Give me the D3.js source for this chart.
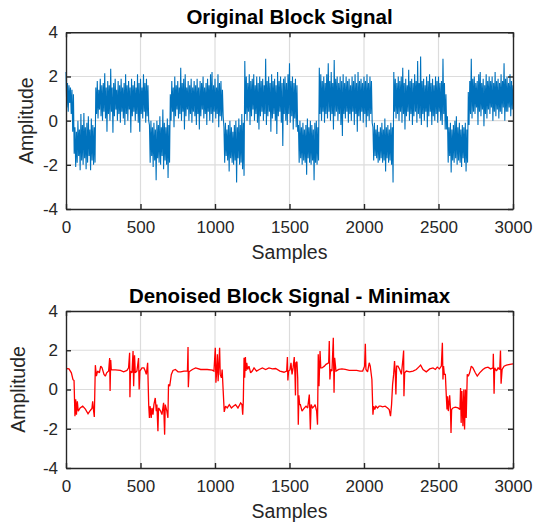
<!DOCTYPE html>
<html><head><meta charset="utf-8">
<script src="https://cdn.jsdelivr.net/npm/d3@7/dist/d3.min.js"></script>
<style>body{margin:0;background:#fff}svg{display:block}</style>
</head><body><svg id="c" width="533" height="524"></svg>
<script>
// ---------- data ----------
const sampleStep = 5; // original signal read every 5 samples (alternating upper / lower noise values)
const originalValues = [
 // 0-50 (high)
 2.2,0.6,1.7,0.4,1.6,0.8,1.5,0.3,1.4,-0.5,1.2,
 // 55-195 (low)
 -1.5,-0.3,-2.1,-0.5,-1.9,0.0,-1.6,-0.4,-2.25,0.3,-1.8,-0.2,-2.0,0.35,-1.7,-0.3,-2.2,-0.1,-1.9,0.2,-1.6,-0.4,-2.25,0.1,-1.8,-0.2,-2.0,-0.3,-1.9,
 // 200-555 (high)
 1.5,0.3,1.8,0.1,1.4,0.5,1.9,0.2,1.6,0.0,1.7,0.4,2.15,0.1,1.5,-0.5,1.8,0.3,1.6,0.0,2.35,0.4,1.5,-0.55,1.7,0.2,1.9,0.5,1.4,0.0,1.8,0.3,1.6,-0.1,1.9,0.4,
 1.5,0.1,1.7,-0.2,2.1,0.3,1.6,0.0,1.8,0.5,1.5,-0.55,1.9,0.2,1.6,0.4,1.8,0.0,1.5,0.3,2.1,-0.1,1.7,-0.5,1.9,0.3,1.5,0.1,2.1,0.4,1.7,-0.1,1.9,0.2,1.6,0.0,
 // 560-695 (low)
 -0.2,-1.9,0.0,-1.6,-0.3,-2.1,-0.1,-1.8,-0.4,-2.7,0.0,-1.7,-0.2,-1.9,0.2,-2.0,-0.3,-1.6,0.5,-2.2,-0.1,-1.8,-0.3,-2.0,0.1,-2.6,-0.2,-1.9,
 // 700-1055 (high)
 1.2,0.0,1.8,0.4,1.5,-0.3,2.0,0.2,1.6,0.5,1.8,0.1,1.5,0.3,2.4,0.0,1.7,0.4,1.9,-0.4,2.1,0.2,1.5,0.5,1.8,0.0,1.6,0.3,1.9,-0.1,1.5,0.4,1.8,0.2,1.6,-0.2,
 1.9,0.3,1.5,-0.4,1.8,0.2,1.7,0.5,2.0,0.1,1.5,0.3,1.7,-0.2,1.9,0.4,1.6,0.0,2.1,0.3,2.2,-0.1,1.6,0.4,1.9,0.1,1.5,0.3,2.1,-0.3,1.7,0.2,1.8,0.0,1.4,0.2,
 // 1060-1195 (low)
 -0.3,-1.9,-0.1,-1.6,-0.4,-1.8,-0.2,-2.3,0.0,-1.7,-0.3,-1.9,-0.5,-2.0,-0.2,-1.8,0.0,-2.8,-0.3,-1.7,0.1,-2.0,-0.2,-1.9,0.3,-2.2,-0.1,-2.5,
 // 1200-1555 (high)
 2.7,0.3,2.0,0.0,1.7,0.4,2.1,-0.2,1.8,0.2,1.9,0.5,2.1,0.0,1.6,0.3,2.0,-0.1,1.7,-0.4,2.0,0.2,1.8,0.4,1.9,0.0,1.6,0.3,2.8,-0.2,1.8,0.2,2.0,0.4,1.7,-0.5,
 2.1,0.1,1.8,0.3,1.9,0.0,1.6,-0.6,2.2,0.2,1.8,0.4,2.0,-0.1,1.7,-1.15,1.9,0.3,2.0,0.0,1.7,-0.2,2.1,0.3,2.6,-0.1,1.8,0.2,2.0,-0.4,1.7,0.1,1.9,-0.3,1.6,-0.5,
 // 1560-1695 (low)
 -0.2,-1.9,0.0,-1.7,-0.3,-2.0,-0.1,-1.8,-0.4,-1.9,-0.2,-2.45,0.1,-1.7,-0.3,-1.9,0.0,-2.0,-0.2,-1.8,-0.4,-2.7,-0.1,-1.9,0.0,-2.0,-0.3,-1.8,
 // 1700-2055 (high)
 2.4,0.3,2.1,0.0,1.8,0.4,2.0,-0.1,1.7,0.3,2.1,0.1,2.6,0.4,1.8,0.0,2.2,0.3,1.7,-0.4,2.75,0.2,1.9,0.4,2.0,0.0,1.7,0.3,2.0,-0.2,1.8,-0.7,2.1,0.3,1.7,0.1,
 2.0,0.4,1.8,-0.1,1.9,0.3,1.6,0.0,2.0,0.4,1.8,-0.2,2.1,0.3,1.7,-0.5,2.2,0.2,1.8,0.0,1.9,0.4,1.7,-0.1,2.0,0.3,1.8,-0.3,2.1,0.2,1.7,0.0,2.0,0.3,1.8,-0.1,
 // 2060-2195 (low)
 -0.3,-1.8,-0.1,-1.6,-0.4,-1.7,-0.2,-1.9,-0.5,-1.8,-0.3,-1.7,-0.1,-1.9,-0.4,-1.8,0.1,-2.3,-0.3,-1.7,-0.2,-1.9,-0.4,-1.8,-0.1,-2.0,-0.3,-2.8,
 // 2200-2555 (high)
 2.2,0.4,1.9,0.1,1.7,0.3,2.0,0.0,1.8,0.4,2.0,-0.1,2.4,0.3,1.7,-0.4,1.9,0.2,1.6,0.4,2.3,0.0,1.8,0.3,1.9,-0.2,1.7,0.2,2.1,0.4,1.8,-0.1,2.7,0.3,1.7,0.1,
 2.9,-0.2,1.8,0.3,1.9,0.0,1.6,0.4,2.0,-0.3,1.8,0.2,2.1,0.4,1.7,-0.2,1.9,0.2,1.6,0.0,2.0,0.3,1.8,-0.1,2.0,0.4,1.7,0.0,1.8,-0.2,2.8,0.3,1.7,-0.4,1.2,-0.4,
 // 2560-2695 (low)
 0.2,-1.9,-0.3,-1.6,-0.1,-2.35,-0.4,-1.8,-0.2,-1.9,0.0,-1.7,0.2,-2.0,-0.3,-1.8,-0.1,-1.9,-0.4,-2.1,-0.2,-1.7,-0.3,-1.9,-0.1,-2.3,-0.4,-1.9,
 // 2700-3000 (high)
 1.3,-0.2,1.8,0.3,2.8,0.1,1.9,0.4,2.0,0.3,1.7,0.6,1.8,-0.2,2.1,0.4,2.2,0.2,1.7,0.5,1.9,-0.25,1.6,0.3,2.1,0.1,1.8,0.5,2.0,0.3,
 1.8,0.6,2.0,0.0,1.7,0.4,2.2,0.2,1.8,0.5,1.9,0.1,1.7,0.4,2.1,0.3,1.8,0.6,2.6,0.0,1.9,0.4,2.0,0.4,1.7,0.6,2.1,0.2,1.8,0.5,1.6
];
const denoisedSamples = [
 0,20,36,47,54,60,65,70,76,82,95,112,130,148,163,174,179,184,190,197,204,212,224,233,242,255,264,273,286,293,296,300,304,331,365,387,409,420,427,429,433,443,450,454,460,465,476,487,491,496,510,523,532,539,548,
 555,560,564,568,572,577,584,590,599,606,610,617,621,635,644,655,662,666,677,684,688,696,707,718,734,752,770,792,815,819,821,826,848,870,904,948,982,993,1002,1006,1010,1016,1021,1031,1035,1043,1048,
 1055,1062,1071,1082,1096,1110,1123,1138,1154,1172,1181,1186,1190,1195,1199,1204,1208,1213,1219,1228,1239,1250,1262,1279,1297,1318,1340,1362,1385,1407,1436,1463,1481,1486,1489,1494,1503,1510,1517,1524,1532,1537,1540,1543,1550,1555,
 1559,1563,1568,1573,1584,1600,1611,1622,1633,1640,1645,1655,1666,1672,1682,1688,1693,1698,1705,1710,1718,1734,1745,1763,1767,1771,1776,1785,1794,1799,1803,1812,1830,1852,1874,1901,1924,1951,1973,1991,2004,2009,2013,2024,2035,2042,2053,
 2060,2065,2072,2080,2091,2102,2113,2124,2142,2158,2169,2178,2185,2192,2199,2205,2210,2214,2219,2228,2240,2251,2262,2266,2268,2273,2284,2306,2329,2351,2367,2380,2396,2418,2441,2463,2479,2492,2506,2519,2526,2530,2534,2539,2546,
 2552,2557,2561,2566,2575,2580,2584,2588,2597,2613,2631,2644,2648,2652,2657,2664,2670,2675,2681,2686,2693,2700,2709,2720,2731,2747,2760,2776,2798,2814,2832,2850,2866,2868,2873,2877,2889,2900,2911,2916,2920,2927,2940,2956,2979,3000
];
const denoisedValues = [
 1.07,1.05,0.85,0.5,0.46,-1.36,-0.5,-1.28,-0.6,-1.1,-0.94,-0.85,-1.0,-1.24,-1.07,-0.97,-0.6,-1.0,-1.4,1.24,0.68,0.94,0.85,1.19,1.1,0.77,0.68,0.85,0.94,1.6,-0.08,1.5,1.0,1.0,0.97,0.9,0.97,1.1,1.87,-0.4,0.94,0.85,1.96,0.17,1.75,0.85,0.94,1.6,0.0,0.94,1.1,1.1,0.94,0.77,1.36,
 -0.77,-1.45,-0.85,-1.1,-1.45,-0.94,-1.28,-0.77,-0.43,-1.1,-0.77,-2.13,-0.94,-1.1,-1.28,-0.68,-2.3,-0.77,-1.1,-1.45,0.26,0.17,0.77,0.97,1.02,0.9,0.9,0.94,0.94,2.16,0.12,0.9,1.02,1.1,1.02,1.02,0.99,0.94,2.13,0.34,0.77,1.79,0.42,2.13,0.77,0.6,1.02,
 -0.08,-1.14,-0.85,-0.94,-0.77,-0.94,-0.85,-0.77,-0.94,-0.68,-0.77,-1.28,-0.6,1.62,0.6,1.65,0.94,1.36,1.02,1.19,0.85,0.94,1.1,0.94,1.02,1.1,1.02,1.1,1.05,1.07,0.94,0.88,0.94,1.65,0.46,0.94,1.0,1.36,0.77,1.1,1.65,0.68,-0.3,1.36,1.41,0.6,
 -1.8,-0.3,-0.77,-0.77,-1.1,-0.94,-0.85,-0.94,-0.26,-2.04,-0.77,-0.94,-0.85,-0.77,-1.1,-1.79,1.79,0.17,1.96,1.1,1.1,1.19,1.28,1.36,2.47,0.51,1.02,0.94,2.64,-0.17,1.62,0.94,1.02,1.05,1.02,0.97,0.97,0.97,0.94,0.94,1.19,2.33,1.02,0.9,1.36,1.19,0.51,
 -1.28,-0.85,-1.02,-0.85,-0.94,-0.85,-0.85,-0.88,-0.85,-0.94,-1.02,-1.36,-0.77,0.26,0.77,1.45,0.85,-0.26,1.19,1.19,1.02,0.77,1.62,1.99,-0.34,0.85,0.94,0.9,0.94,1.02,1.14,1.24,1.02,0.9,1.05,1.1,1.02,1.14,1.05,1.19,2.38,0.51,1.19,0.77,0.77,
 -0.26,-1.02,-0.34,-1.1,-0.29,-0.94,-2.21,-1.02,-0.94,-0.9,-0.94,-1.02,0.08,-1.7,-0.08,-1.87,0.0,-2.04,0.0,-1.45,0.77,0.68,0.85,1.19,1.1,0.85,0.68,0.85,1.02,1.1,1.14,1.05,1.1,1.82,-0.22,1.1,0.94,1.1,1.02,1.99,0.29,1.02,1.19,1.24,1.28,1.31
];
const xTickValues = [0, 500, 1000, 1500, 2000, 2500, 3000];
const yTickValues = [-4, -2, 0, 2, 4];
const titleTexts = ["Original Block Signal", "Denoised Block Signal - Minimax"];
const xLabelText = "Samples";
const yLabelText = "Amplitude";

// ---------- drawing ----------
const svg = d3.select("#c");
const FONT = "'Liberation Sans', Arial, Helvetica, sans-serif";
const AX = "#262626";
const fmt = d => String(d); // plain hyphen-minus as in the reference

function panel(p) {
  const x = d3.scaleLinear().domain([0, 3000]).range([p.l, p.r]);
  const y = d3.scaleLinear().domain([-4, 4]).range([p.b, p.t]);
  const g = svg.append("g");
  // grid
  g.append("g").selectAll("line").data(xTickValues.slice(1, -1)).join("line")
    .attr("x1", d => x(d)).attr("x2", d => x(d)).attr("y1", p.t).attr("y2", p.b)
    .attr("stroke", "#dcdcdc").attr("stroke-width", 1.2);
  g.append("g").selectAll("line").data(yTickValues.slice(1, -1)).join("line")
    .attr("y1", d => y(d)).attr("y2", d => y(d)).attr("x1", p.l).attr("x2", p.r)
    .attr("stroke", "#dcdcdc").attr("stroke-width", 1.2);
  // data
  const line = d3.line().x(d => x(d[0])).y(d => y(d[1]));
  g.append("path").datum(p.data).attr("d", line)
    .attr("fill", "none").attr("stroke", p.color).attr("stroke-width", p.lw)
    .attr("stroke-linejoin", "miter").attr("stroke-miterlimit", 2);
  // axes
  const ts = 5;
  const ax = (gen, tr, labels) => {
    const a = g.append("g").attr("transform", tr).call(gen);
    a.select(".domain").attr("stroke", AX).attr("stroke-width", 1.4);
    a.selectAll(".tick line").attr("stroke", AX).attr("stroke-width", 1.4);
    a.selectAll("text").attr("font-family", FONT).attr("font-size", 17).attr("fill", AX);
    if (!labels) a.selectAll("text").remove();
    return a;
  };
  ax(d3.axisBottom(x).tickValues(xTickValues).tickSizeInner(-ts).tickSizeOuter(0).tickPadding(p.xpad).tickFormat(fmt), `translate(0,${p.b})`, true);
  ax(d3.axisTop(x).tickValues(xTickValues).tickSizeInner(-ts).tickSizeOuter(0), `translate(0,${p.t})`, false);
  ax(d3.axisLeft(y).tickValues(yTickValues).tickSizeInner(-ts).tickSizeOuter(0).tickPadding(p.ypad).tickFormat(fmt), `translate(${p.l},0)`, true);
  ax(d3.axisRight(y).tickValues(yTickValues).tickSizeInner(-ts).tickSizeOuter(0), `translate(${p.r},0)`, false);
  // title and labels
  g.append("text").attr("x", (p.l + p.r) / 2).attr("y", p.titleY).attr("text-anchor", "middle")
    .attr("font-family", FONT).attr("font-weight", "bold").attr("font-size", 20.5).attr("fill", "#000")
    .text(p.title);
  g.append("text").attr("x", (p.l + p.r) / 2).attr("y", p.xlabY).attr("text-anchor", "middle")
    .attr("font-family", FONT).attr("font-size", 19.5).attr("fill", AX).text(xLabelText);
  g.append("text").attr("transform", `translate(${p.ylabX},${(p.t + p.b) / 2}) rotate(-90)`)
    .attr("text-anchor", "middle").attr("font-family", FONT).attr("font-size", 19.5).attr("fill", AX)
    .text(yLabelText);
}

panel({
  l: 66, r: 513, t: 32.3, b: 209,
  data: originalValues.map((v, i) => [i * sampleStep, v]),
  color: "#0072BD", lw: 1.1,
  title: titleTexts[0], titleY: 24, xlabY: 259, ylabX: 33, xpad: 12, ypad: 8
});
panel({
  l: 66, r: 513, t: 311, b: 468,
  data: denoisedSamples.map((s, i) => [s, denoisedValues[i]]),
  color: "#FF0000", lw: 1.3,
  title: titleTexts[1], titleY: 303, xlabY: 518, ylabX: 25, xpad: 12, ypad: 8
});
</script>
</body></html>
